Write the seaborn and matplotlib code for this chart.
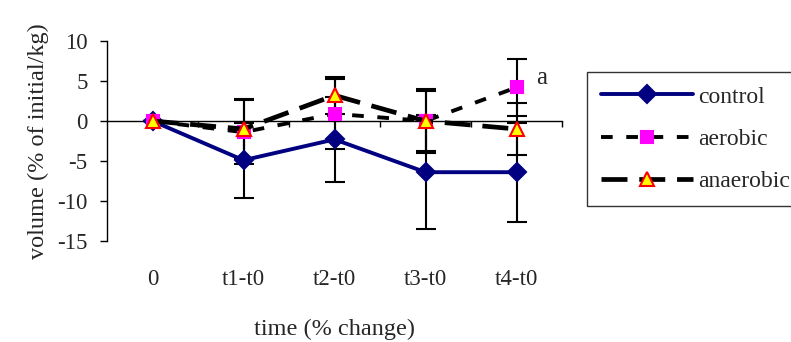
import matplotlib
matplotlib.use("Agg")
import matplotlib.pyplot as plt
import seaborn as sns
import pandas as pd
import numpy as np

categories = ["0", "t1-t0", "t2-t0", "t3-t0", "t4-t0"]
control = [0, -4.9, -2.3, -6.4, -6.4]
control_err = [0, 4.7, 5.3, 7.1, 6.2]
aerobic = [0, -1.4, 0.9, 0.0, 4.2]
aerobic_err = [0, 4.0, 4.4, 4.0, 3.6]
anaerobic = [0, -1.0, 3.2, 0.0, -1.0]
anaerobic_err = [0, 3.8, 2.3, 3.8, 3.3]
yticks = [-15, -10, -5, 0, 5, 10]

sns.set_theme(style="white")
plt.rcParams['font.family'] = ['Liberation Serif', 'DejaVu Serif']

x = np.arange(len(categories))
df = pd.DataFrame({"x": np.tile(x, 3),
                   "value": control + aerobic + anaerobic,
                   "err": control_err + aerobic_err + anaerobic_err,
                   "series": ["control"] * 5 + ["aerobic"] * 5 + ["anaerobic"] * 5})

fig = plt.figure(figsize=(7.91, 3.42), dpi=100)
ax = fig.add_axes([107 / 791, 1 - 241 / 342, 455 / 791, 200 / 342])

styles = {
    "control": dict(color="#000080", marker="D", mfc="#000080", mec="#000080", ms=9.5, lw=2.8, dashes=None),
    "aerobic": dict(color="black", marker="s", mfc="#FF00FF", mec="#FF00FF", ms=8.5, lw=2.8, dashes=(3, 3.5)),
    "anaerobic": dict(color="black", marker="^", mfc="#FFFF00", mec="#FF0000", ms=10, lw=3.4, dashes=(5.5, 2.5)),
}

for name in ["control", "aerobic", "anaerobic"]:
    sub = df[df.series == name]
    ax.errorbar(sub.x, sub.value, yerr=sub.err, fmt="none", ecolor="black",
                elinewidth=1.5, capsize=7, capthick=1.5, zorder=2)

handles = []
for name in ["control", "aerobic", "anaerobic"]:
    sub = df[df.series == name]
    st = styles[name]
    sns.lineplot(data=sub, x="x", y="value", ax=ax, color=st["color"], lw=st["lw"],
                 marker=st["marker"], markersize=st["ms"], markerfacecolor=st["mfc"],
                 markeredgecolor=st["mec"], markeredgewidth=1.5, label=name, zorder=3,
                 legend=False)
    line = ax.get_lines()[-1]
    if st["dashes"] is not None:
        line.set_dashes(st["dashes"])
    handles.append(line)

ax.set_xlim(-0.5, 4.5)
ax.set_ylim(-15, 10)
ax.set_yticks(yticks)
ax.set_yticklabels([str(v) for v in yticks])
ax.tick_params(axis="y", direction="out", length=5, width=1, color="black",
               labelsize=16.5, pad=9, left=True)
for s in ["top", "right"]:
    ax.spines[s].set_visible(False)
ax.spines["left"].set_color("black")
ax.spines["left"].set_linewidth(1)
ax.spines["bottom"].set_position(("data", 0))
ax.spines["bottom"].set_color("black")
ax.spines["bottom"].set_linewidth(1)
ax.set_xticks([0.5, 1.5, 2.5, 3.5, 4.5])
ax.set_xticklabels([])
ax.tick_params(axis="x", direction="out", length=4, width=1, color="black", bottom=True)
ax.set_xlabel("")
ax.set_ylabel("volume (% of initial/kg)", fontsize=17.5, labelpad=6)

sec = ax.secondary_xaxis(0)
sec.set_xticks(x)
sec.set_xticklabels(categories)
sec.tick_params(length=0, labelsize=16.5, pad=20)
sec.spines["bottom"].set_visible(False)
sec.set_xlabel("time (% change)", fontsize=17.5, labelpad=21)

ax.text(4.22, 5.4, "a", fontsize=18, ha="left", va="center")

leg = fig.legend(handles, ["control", "aerobic", "anaerobic"], loc="upper left",
                 bbox_to_anchor=(587 / 791, 1 - 72 / 342), bbox_transform=fig.transFigure,
                 fontsize=17, handlelength=3.9, frameon=True, fancybox=False,
                 edgecolor="black", borderpad=0.6, labelspacing=0.88, handletextpad=0.2,
                 borderaxespad=0)
leg.get_frame().set_linewidth(1)

fig.savefig("out.png", dpi=100)
